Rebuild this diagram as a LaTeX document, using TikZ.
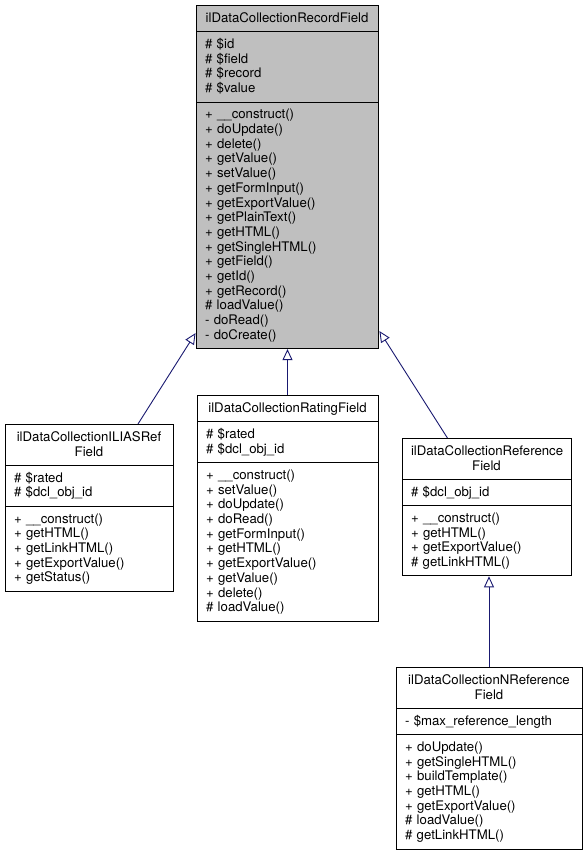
\documentclass[tikz,border=0pt]{standalone}
\usepackage{fontspec}
\setmainfont{TeX Gyre Heros}
\usetikzlibrary{shapes.multipart,arrows.meta,calc}

\definecolor{recgray}{HTML}{BFBFBF}
\definecolor{inhblue}{HTML}{191970}
\newcommand{\cstrut}{\rule[-3.6pt]{0pt}{14.7pt}}

\begin{document}
\begin{tikzpicture}[x=1pt, y=-1pt,
	classbox/.style={draw=black, line width=0.9pt, rectangle split, rectangle split parts=3,
		anchor=north, inner xsep=9pt, inner ysep=5.3pt,
		font=\fontsize{13.2}{14.7}\selectfont},
	inherit/.style={draw=inhblue, line width=0.9pt, -{Triangle[open, length=11pt, width=10pt]}}]

\useasboundingbox (0,0) rectangle (587,852);

% base class
\node[classbox, fill=recgray, text width=164pt] (record) at (287,5)
	{\centering\cstrut ilDataCollectionRecordField\cstrut\par
	\nodepart{two}\raggedright\cstrut \# \$id\\ \# \$field\\ \# \$record\\ \# \$value\cstrut\par
	\nodepart{three}\raggedright\cstrut + \_\_construct()\\ + doUpdate()\\ + delete()\\ + getValue()\\
	+ setValue()\\ + getFormInput()\\ + getExportValue()\\ + getPlainText()\\ + getHTML()\\
	+ getSingleHTML()\\ + getField()\\ + getId()\\ + getRecord()\\ \# loadValue()\\
	- doRead()\\ - doCreate()\cstrut\par};

% derived classes
\node[classbox, fill=white, text width=150pt] (iliasref) at (89,424)
	{\centering\cstrut ilDataCollectionILIASRef\\ Field\cstrut\par
	\nodepart{two}\raggedright\cstrut \# \$rated\\ \# \$dcl\_obj\_id\cstrut\par
	\nodepart{three}\raggedright\cstrut + \_\_construct()\\ + getHTML()\\ + getLinkHTML()\\
	+ getExportValue()\\ + getStatus()\cstrut\par};

\node[classbox, fill=white, text width=163pt] (rating) at (287.5,395)
	{\centering\cstrut ilDataCollectionRatingField\cstrut\par
	\nodepart{two}\raggedright\cstrut \# \$rated\\ \# \$dcl\_obj\_id\cstrut\par
	\nodepart{three}\raggedright\cstrut + \_\_construct()\\ + setValue()\\ + doUpdate()\\ + doRead()\\
	+ getFormInput()\\ + getHTML()\\ + getExportValue()\\ + getValue()\\ + delete()\\
	\# loadValue()\cstrut\par};

\node[classbox, fill=white, text width=151pt] (reference) at (486.5,438)
	{\centering\cstrut ilDataCollectionReference\\ Field\cstrut\par
	\nodepart{two}\raggedright\cstrut \# \$dcl\_obj\_id\cstrut\par
	\nodepart{three}\raggedright\cstrut + \_\_construct()\\ + getHTML()\\ + getExportValue()\\
	\# getLinkHTML()\cstrut\par};

\node[classbox, fill=white, text width=168pt] (nreference) at (489,667)
	{\centering\cstrut ilDataCollectionNReference\\ Field\cstrut\par
	\nodepart{two}\raggedright\cstrut - \$max\_reference\_length\cstrut\par
	\nodepart{three}\raggedright\cstrut + doUpdate()\\ + getSingleHTML()\\ + buildTemplate()\\ + getHTML()\\
	+ getExportValue()\\ \# loadValue()\\ \# getLinkHTML()\cstrut\par};

% inheritance
\draw[inherit] ($(iliasref.north west)!0.79!(iliasref.north east)$) -- ($(record.south west)+(0,-16)$);
\draw[inherit] (rating.north) -- (rating.north |- record.south);
\draw[inherit] ($(reference.north west)!0.27!(reference.north east)$) -- ($(record.south east)+(1,-18)$);
\draw[inherit] (nreference.north) -- (nreference.north |- reference.south);

\end{tikzpicture}
\end{document}
